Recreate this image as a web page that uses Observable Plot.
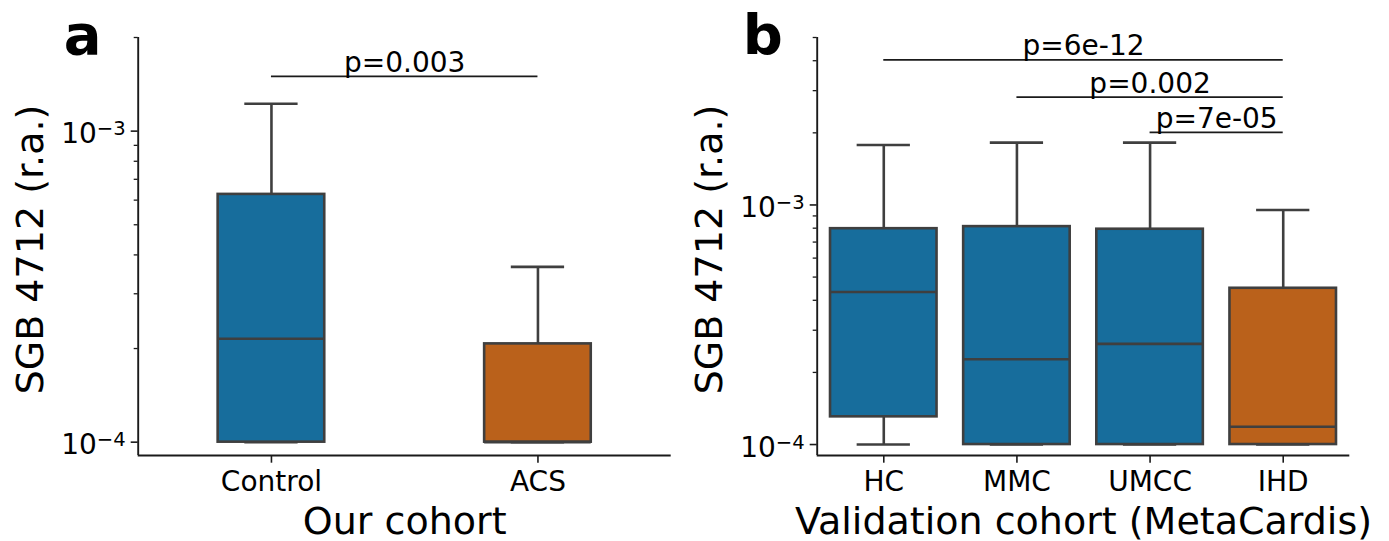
<!DOCTYPE html>
<html>
<head>
<meta charset="utf-8">
<script src="https://cdn.jsdelivr.net/npm/d3@7"></script>
<script src="https://cdn.jsdelivr.net/npm/@observablehq/plot@0.6"></script>
<style>
html, body { margin: 0; padding: 0; background: #ffffff; }
#fig { display: flex; flex-direction: row; width: 1389px; height: 541px; }
#fig svg { display: block; flex: none; max-width: none; }
</style>
</head>
<body>
<div id="fig"></div>
<script>
// ---------- Panel a: Our cohort ----------
const cohortA = ["Control", "ACS"];
const groupA = ["control", "case"];
const lowA = [1e-4, 1e-4];
const q1A = [1e-4, 1e-4];
const medA = [2.15e-4, 1e-4];
const q3A = [6.26e-4, 2.07e-4];
const highA = [1.225e-3, 3.66e-4];

const sigFromA = [0];
const sigToA = [1];
const sigYA = [1.5e-3];
const sigTextA = ["p=0.003"];

// ---------- Panel b: Validation cohort (MetaCardis) ----------
const cohortB = ["HC", "MMC", "UMCC", "IHD"];
const groupB = ["control", "control", "control", "case"];
const lowB = [1e-4, 1e-4, 1e-4, 1e-4];
const q1B = [1.305e-4, 1e-4, 1e-4, 1e-4];
const medB = [4.33e-4, 2.27e-4, 2.63e-4, 1.186e-4];
const q3B = [7.96e-4, 8.12e-4, 7.92e-4, 4.49e-4];
const highB = [1.78e-3, 1.82e-3, 1.82e-3, 9.53e-4];

const sigFromB = [0, 1, 2];
const sigToB = [3, 3, 3];
const sigYB = [4.03e-3, 2.82e-3, 2.01e-3];
const sigTextB = ["p=6e-12", "p=0.002", "p=7e-05"];

// ---------- Axes ----------
const yTicksMajor = [1e-4, 1e-3];
const yTickBase = "10";
const yTickExp = ["\u22124", "\u22123"];
const yMinorA = [2e-4, 3e-4, 4e-4, 5e-4, 6e-4, 7e-4, 8e-4, 9e-4, 2e-3];
const yMinorB = [2e-4, 3e-4, 4e-4, 5e-4, 6e-4, 7e-4, 8e-4, 9e-4, 2e-3, 3e-3, 4e-3, 5e-3];
const yDomainA = [9.06e-5, 2.0e-3];
const yDomainB = [9.0e-5, 5.0e-3];

const letterA = "a", letterB = "b";
const xLabelA = "Our cohort";
const xLabelB = "Validation cohort (MetaCardis)";
const yLabel = "SGB 4712 (r.a.)";

const groupColors = {control: "#176d9c", case: "#ba611b"};
const EDGE = "#3f3f3f";
const INK = "#1a1a1a";
const FONT = "DejaVu Sans";

function panel(cfg) {
  const rows = cfg.cats.map((c, i) => ({
    i, cat: c, group: cfg.group[i],
    low: cfg.low[i], q1: cfg.q1[i], med: cfg.med[i], q3: cfg.q3[i], high: cfg.high[i]
  }));
  const sig = cfg.sigFrom.map((f, k) => ({from: f, to: cfg.sigTo[k], y: cfg.sigY[k], text: cfg.sigText[k]}));
  const hb = cfg.halfBox, hc = cfg.halfBox / 2;
  const n = cfg.cats.length;
  const LW = 2.6;
  const svg = Plot.plot({
    width: cfg.width,
    height: 541,
    marginLeft: cfg.marginLeft,
    marginRight: cfg.marginRight,
    marginTop: 37,
    marginBottom: 86,
    style: {fontFamily: FONT, background: "white", overflow: "visible", color: "black"},
    x: {type: "linear", domain: [-0.5, n - 0.5]},
    y: {type: "log", domain: cfg.yDomain},
    marks: [
      // whiskers
      Plot.ruleX(rows, {x: "i", y1: "q3", y2: "high", stroke: EDGE, strokeWidth: LW}),
      Plot.ruleX(rows, {x: "i", y1: "low", y2: "q1", stroke: EDGE, strokeWidth: LW}),
      Plot.ruleY(rows, {y: "high", x1: d => d.i - hc, x2: d => d.i + hc, stroke: EDGE, strokeWidth: LW}),
      Plot.ruleY(rows, {y: "low", x1: d => d.i - hc, x2: d => d.i + hc, stroke: EDGE, strokeWidth: LW}),
      // boxes
      Plot.rect(rows, {x1: d => d.i - hb, x2: d => d.i + hb, y1: "q1", y2: "q3",
        fill: d => groupColors[d.group], stroke: EDGE, strokeWidth: LW}),
      // medians
      Plot.ruleY(rows, {y: "med", x1: d => d.i - hb, x2: d => d.i + hb, stroke: EDGE, strokeWidth: LW}),
      // spines
      Plot.ruleX([-0.5], {stroke: INK, strokeWidth: 1.9}),
      Plot.ruleY([cfg.yDomain[0]], {stroke: INK, strokeWidth: 1.9}),
      // y axis
      Plot.axisY(yTicksMajor, {tickSize: 7, tickPadding: 5.5, fontSize: 28, fontFamily: FONT,
        tickFormat: d => yTickBase + yTickExp[yTicksMajor.indexOf(d)], stroke: INK, strokeWidth: 1.6, label: null}),
      Plot.axisY(cfg.minor, {tickSize: 4, fill: "none", stroke: INK, strokeWidth: 1.3, label: null, tickFormat: () => ""}),
      // x axis
      Plot.axisX(rows.map(d => d.i), {tickSize: 7.7, tickPadding: 8, fontSize: 28, fontFamily: FONT,
        tickFormat: i => cfg.cats[i], stroke: INK, strokeWidth: 1.6, label: null}),
      // significance bars
      Plot.ruleY(sig, {y: "y", x1: "from", x2: "to", stroke: INK, strokeWidth: 1.8}),
      Plot.text(sig, {x: d => (d.from + d.to) / 2, y: "y", text: "text", fontSize: 28, fontFamily: FONT,
        lineAnchor: "bottom", dy: -4.5, fill: "black"}),
      // labels
      Plot.text([yLabel], {frameAnchor: "left", rotate: -90, dx: -107, dy: 3, fontSize: 38,
        fontFamily: FONT, fill: "black", textAnchor: "middle"}),
      Plot.text([cfg.xLabel], {frameAnchor: "bottom", dy: 78, lineAnchor: "bottom", fontSize: 38,
        fontFamily: FONT, fill: "black"}),
      Plot.text([cfg.letter], {frameAnchor: "top-left", dx: -74.5, dy: 16.5, lineAnchor: "bottom",
        textAnchor: "start", fontSize: 56, fontWeight: "bold", fontFamily: FONT, fill: "black"})
    ]
  });
  // mathtext-style superscripts for the log tick labels (10^-3, 10^-4)
  d3.select(svg).selectAll('g[aria-label="y-axis tick label"] text').each(function () {
    const t = this.textContent;
    if (!t.startsWith(yTickBase)) return;
    const exp = t.slice(yTickBase.length);
    const sel = d3.select(this);
    sel.text(null).attr("y", "0.43em");
    sel.append("tspan").text(yTickBase);
    sel.append("tspan").attr("dy", "-0.4em").attr("font-size", "0.7em").text(exp);
  });
  return svg;
}

const fig = document.getElementById("fig");
fig.append(panel({
  cats: cohortA, group: groupA, low: lowA, q1: q1A, med: medA, q3: q3A, high: highA,
  sigFrom: sigFromA, sigTo: sigToA, sigY: sigYA, sigText: sigTextA,
  minor: yMinorA, yDomain: yDomainA, letter: letterA, xLabel: xLabelA,
  width: 690, marginLeft: 137.7, marginRight: 19.3, halfBox: 0.2
}));
fig.append(panel({
  cats: cohortB, group: groupB, low: lowB, q1: q1B, med: medB, q3: q3B, high: highB,
  sigFrom: sigFromB, sigTo: sigToB, sigY: sigYB, sigText: sigTextB,
  minor: yMinorB, yDomain: yDomainB, letter: letterB, xLabel: xLabelB,
  width: 699, marginLeft: 126.7, marginRight: 39.7, halfBox: 0.4
}));
</script>
</body>
</html>
